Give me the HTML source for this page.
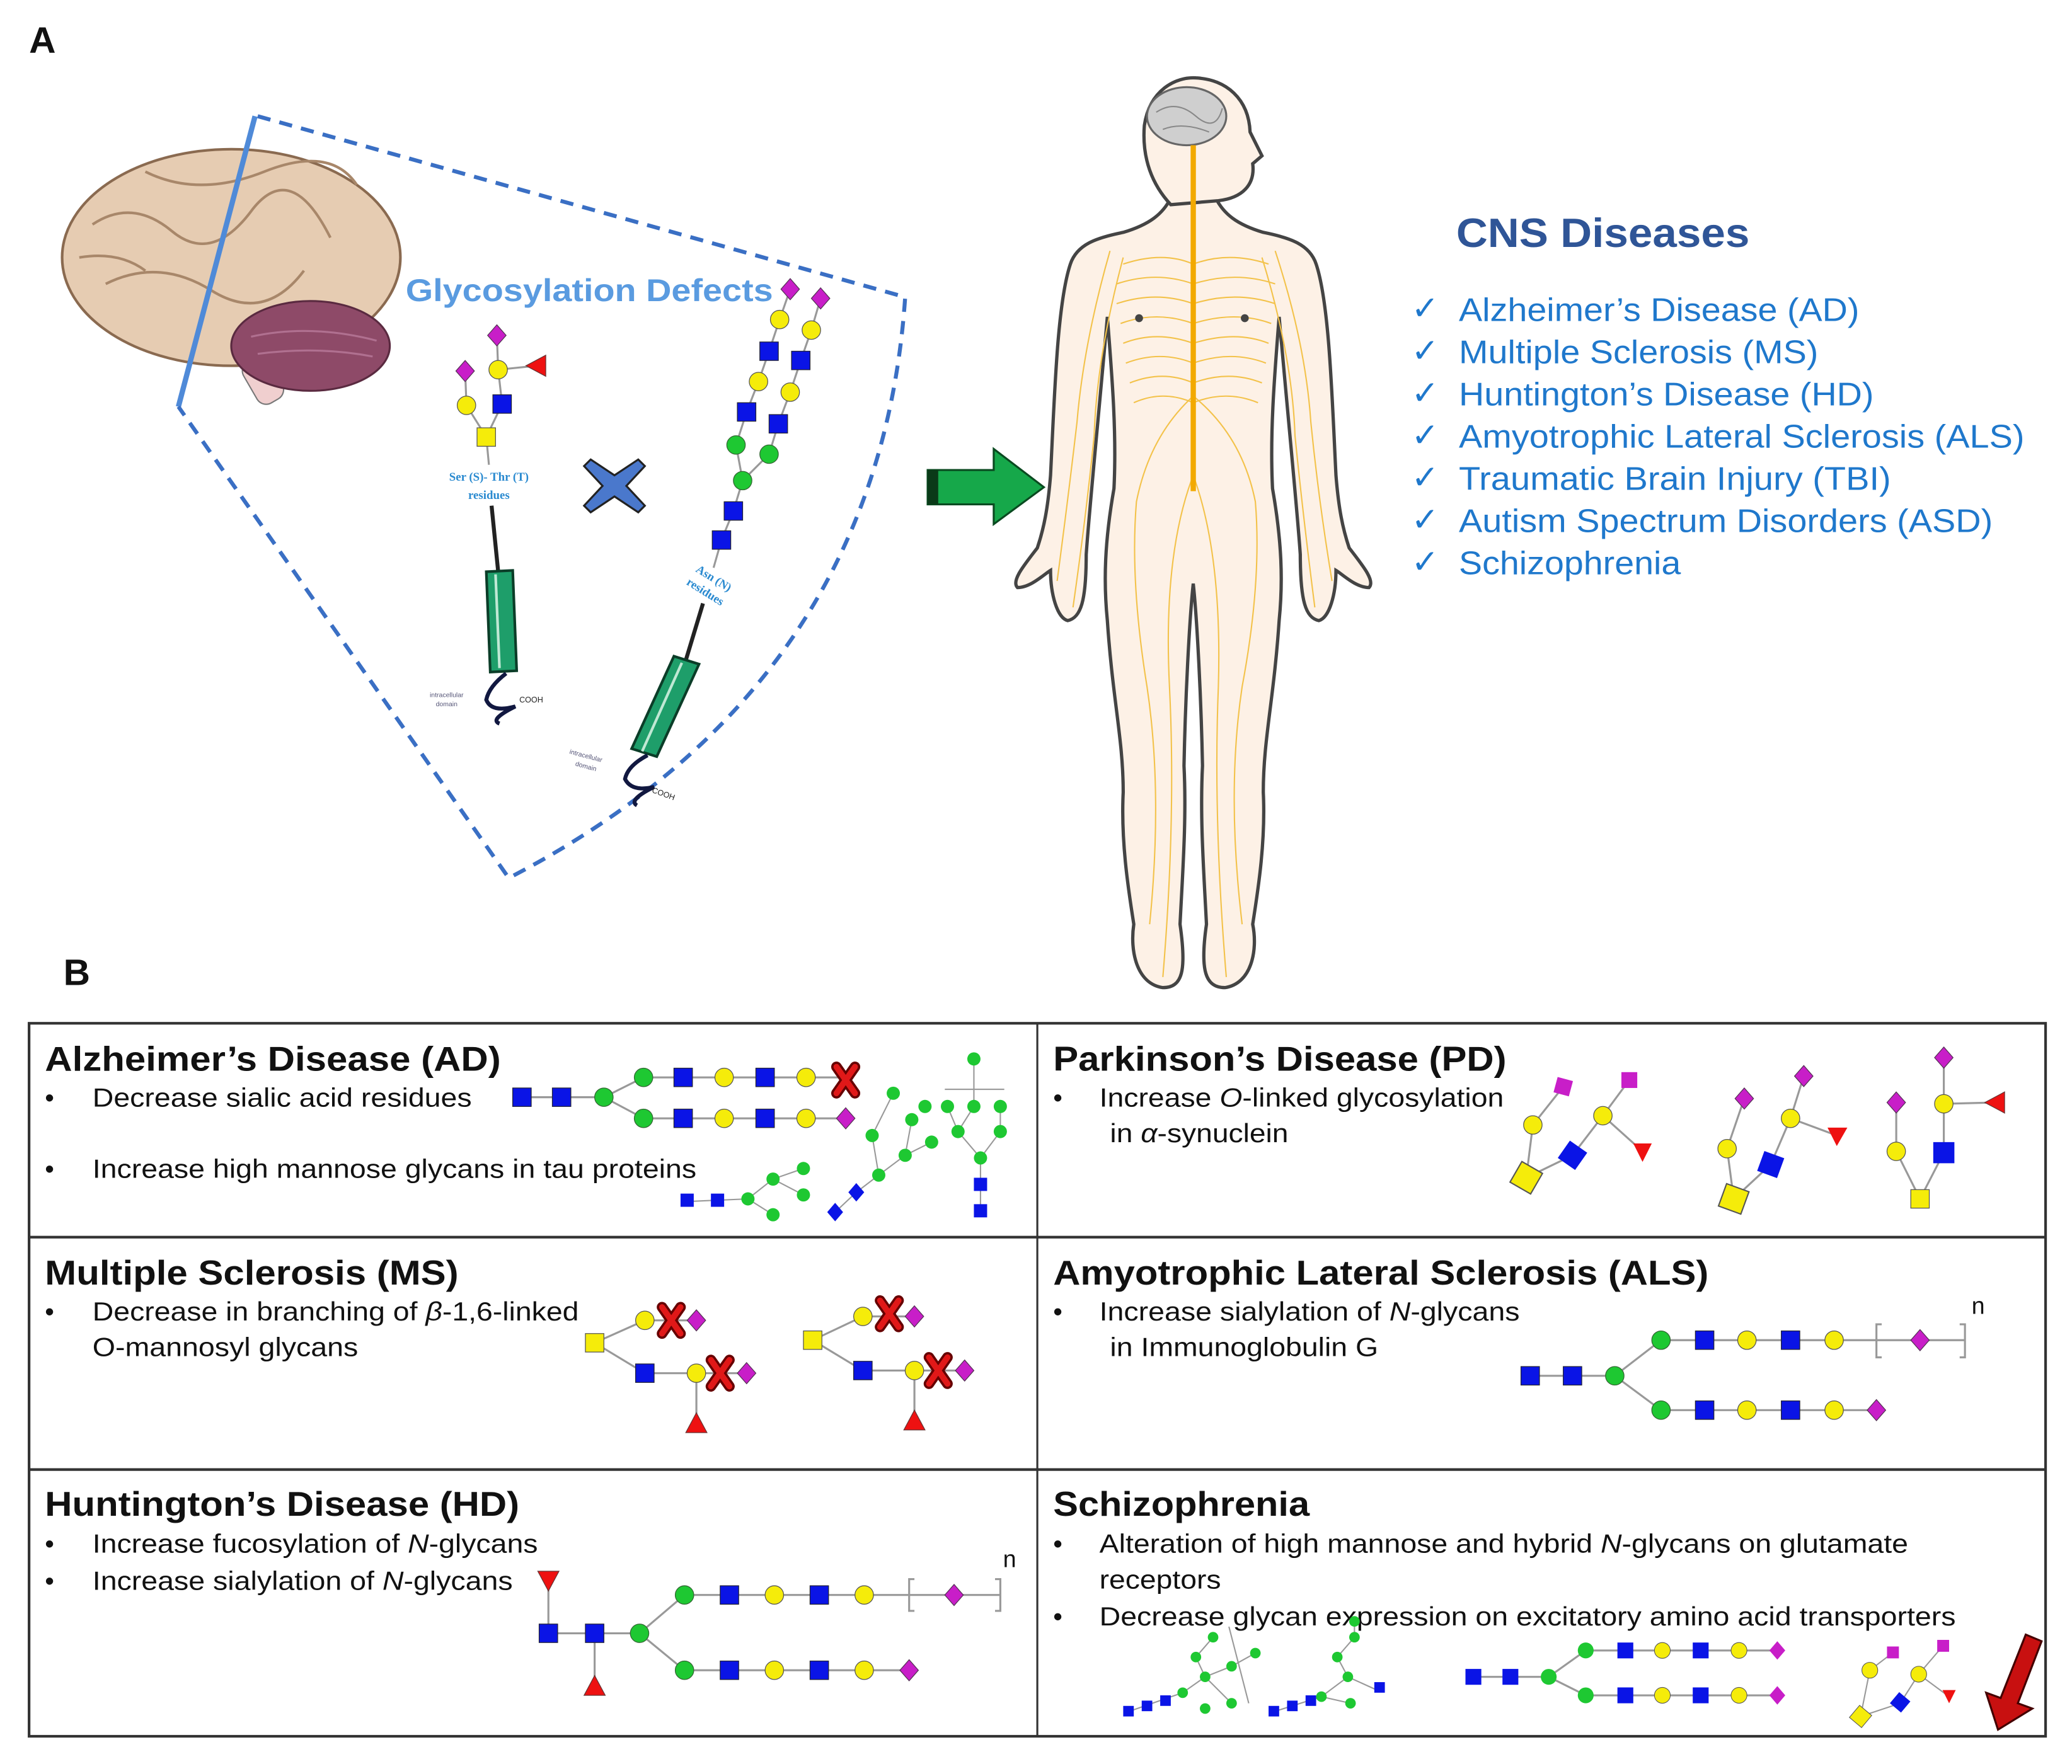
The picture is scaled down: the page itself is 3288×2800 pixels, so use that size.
<!DOCTYPE html>
<html><head><meta charset="utf-8"><style>
html,body{margin:0;padding:0;background:#fff}
svg{display:block}
.t{font-family:"Liberation Sans",sans-serif;font-weight:bold;font-size:26px;fill:#111}
.b{font-family:"Liberation Sans",sans-serif;font-size:20px;fill:#111}
.c{font-family:"Liberation Sans",sans-serif;font-size:25px;fill:#1f78cc}
.ln{stroke:#999;stroke-width:1.5;fill:none}
</style></head><body>
<svg width="3288" height="2800" viewBox="0 0 1568 1336" preserveAspectRatio="none" xmlns="http://www.w3.org/2000/svg">
<defs>
<g id="sq"><rect x="-7" y="-7" width="14" height="14" fill="#0a14e6" stroke="#223" stroke-width="0.6"/></g>
<g id="ys"><rect x="-7" y="-7" width="14" height="14" fill="#f5ec0a" stroke="#555" stroke-width="0.6"/></g>
<g id="yc"><circle r="7" fill="#f5ec0a" stroke="#555" stroke-width="0.6"/></g>
<g id="gc"><circle r="7" fill="#1ec832" stroke="#363" stroke-width="0.6"/></g>
<g id="sg"><circle r="5" fill="#1ec832"/></g>
<g id="di"><polygon points="0,-8 7,0 0,8 -7,0" fill="#c81ec8" stroke="#535" stroke-width="0.6"/></g>
<g id="tu"><polygon points="0,-8 8,7 -8,7" fill="#ee1111" stroke="#633" stroke-width="0.6"/></g>
<g id="td"><polygon points="0,8 8,-7 -8,-7" fill="#ee1111" stroke="#633" stroke-width="0.6"/></g>
<g id="tl"><polygon points="-8,0 7,-8 7,8" fill="#ee1111" stroke="#633" stroke-width="0.6"/></g>
<g id="xx"><path d="M-7,-10 L7,10 M7,-10 L-7,10" stroke="#600" stroke-width="8" stroke-linecap="round"/><path d="M-7,-10 L7,10 M7,-10 L-7,10" stroke="#e01818" stroke-width="4.5" stroke-linecap="round"/></g>
</defs>

<!-- Panel A -->
<text x="22" y="40" class="t" style="font-size:28px">A</text>

<!-- brain -->
<g>
<ellipse cx="175" cy="195" rx="128" ry="82" fill="#e6ccb2" stroke="#8a6a50" stroke-width="2"/>
<path d="M70 170 Q100 150 130 175 T190 160 T250 180 M80 215 Q120 195 160 220 T230 205 M110 130 Q150 150 200 130 T270 140 M60 195 Q90 190 110 205" stroke="#a8876a" stroke-width="2" fill="none"/>
<rect x="188" y="270" width="22" height="36" rx="8" fill="#f0cfcf" stroke="#777" transform="rotate(-30 199 288)"/>
<ellipse cx="235" cy="262" rx="60" ry="34" fill="#8e4a68" stroke="#5a2a40" stroke-width="1.5"/>
<path d="M190 255 Q235 245 285 258 M195 268 Q240 262 282 270" stroke="#b07090" stroke-width="1.5" fill="none"/>
</g>
<line x1="193" y1="88" x2="135" y2="308" stroke="#4f8ad8" stroke-width="4"/>
<path d="M195 88 L685 225 Q665 520 385 665 L135 308" fill="none" stroke="#3a6fc4" stroke-width="3" stroke-dasharray="10 7"/>
<text x="307" y="228" style="font-family:'Liberation Sans',sans-serif;font-weight:bold;font-size:24px;fill:#5a9be0" textLength="278" lengthAdjust="spacingAndGlyphs">Glycosylation Defects</text>

<!-- left O-glycan protein -->
<g class="ln"><path d="M376 254 L377 280 L406 277 M377 280 L380 306 L368 331 L353 307 L352 281 M368 331 L370 352"/></g>
<use href="#di" x="376" y="254"/><use href="#di" x="352" y="281"/>
<use href="#yc" x="377" y="280"/><use href="#tl" x="406" y="277"/>
<use href="#yc" x="353" y="307"/><use href="#sq" x="380" y="306"/><use href="#ys" x="368" y="331"/>
<text x="370" y="364" text-anchor="middle" style="font-family:'Liberation Serif',serif;font-weight:bold;font-size:9px;fill:#2a8ad0">Ser (S)- Thr (T)</text>
<text x="370" y="378" text-anchor="middle" style="font-family:'Liberation Serif',serif;font-weight:bold;font-size:9px;fill:#2a8ad0">residues</text>
<line x1="372" y1="383" x2="377" y2="433" stroke="#222" stroke-width="3"/>
<polygon points="368,433 388,432 391,508 371,509" fill="#1e9e6a" stroke="#0b3d28" stroke-width="2"/>
<line x1="375" y1="435" x2="378" y2="506" stroke="#bfe8d4" stroke-width="2"/>
<path d="M383 510 Q370 520 368 530 Q372 540 390 535 Q370 545 378 548" fill="none" stroke="#111840" stroke-width="3"/>
<text x="393" y="532" style="font-family:'Liberation Sans',sans-serif;font-size:6px;fill:#222">COOH</text>
<text x="338" y="528" text-anchor="middle" style="font-family:'Liberation Sans',sans-serif;font-size:5px;fill:#557">intracellular</text>
<text x="338" y="535" text-anchor="middle" style="font-family:'Liberation Sans',sans-serif;font-size:5px;fill:#557">domain</text>

<!-- blue X -->
<path d="M447 348 L465 360 L483 348 L488 353 L474 368 L488 383 L483 388 L465 376 L447 388 L442 383 L456 368 L442 353 Z" fill="#4a78cc" stroke="#222" stroke-width="1.5"/>

<!-- right N-glycan protein -->
<g class="ln"><path d="M598 219 L590 242 L582 266 L574 289 L565 312 L557 337 L562 364 M621 226 L614 250 L606 273 L598 297 L589 321 L582 344 L562 364 L555 387 L546 409 L540 430"/></g>
<use href="#di" x="598" y="219"/><use href="#di" x="621" y="226"/>
<use href="#yc" x="590" y="242"/><use href="#yc" x="614" y="250"/>
<use href="#sq" x="582" y="266"/><use href="#sq" x="606" y="273"/>
<use href="#yc" x="574" y="289"/><use href="#yc" x="598" y="297"/>
<use href="#sq" x="565" y="312"/><use href="#sq" x="589" y="321"/>
<use href="#gc" x="557" y="337"/><use href="#gc" x="582" y="344"/>
<use href="#gc" x="562" y="364"/>
<use href="#sq" x="555" y="387"/><use href="#sq" x="546" y="409"/>
<g transform="rotate(32 537 443)"><text x="537" y="440" text-anchor="middle" style="font-family:'Liberation Serif',serif;font-weight:bold;font-size:9px;fill:#2a8ad0">Asn (N)</text><text x="537" y="452" text-anchor="middle" style="font-family:'Liberation Serif',serif;font-weight:bold;font-size:9px;fill:#2a8ad0">residues</text></g>
<line x1="532" y1="457" x2="519" y2="500" stroke="#222" stroke-width="3"/>
<polygon points="510,497 529,503 497,573 478,567" fill="#1e9e6a" stroke="#0b3d28" stroke-width="2"/>
<line x1="516" y1="502" x2="486" y2="569" stroke="#bfe8d4" stroke-width="2"/>
<path d="M490 572 Q475 580 473 590 Q478 600 495 596 Q475 606 482 610" fill="none" stroke="#111840" stroke-width="3"/>
<text x="493" y="600" transform="rotate(20 493 600)" style="font-family:'Liberation Sans',sans-serif;font-size:6px;fill:#222">COOH</text>
<text x="443" y="574" transform="rotate(15 443 574)" text-anchor="middle" style="font-family:'Liberation Sans',sans-serif;font-size:5px;fill:#557">intracellular</text>
<text x="443" y="582" transform="rotate(15 443 582)" text-anchor="middle" style="font-family:'Liberation Sans',sans-serif;font-size:5px;fill:#557">domain</text>

<!-- green arrow -->
<polygon points="702,356 752,356 752,340 790,369 752,397 752,382 702,382" fill="#16a84a" stroke="#0a4a20" stroke-width="1.5"/>
<rect x="702" y="356" width="8" height="26" fill="#0a3a18"/>

<!-- human body -->
<path d="M886 150 C 880 162 870 170 850 176 C 830 180 815 185 810 200 C 800 230 798 300 795 360 C 793 385 790 400 785 415 C 775 428 765 440 770 445 C 780 445 790 435 795 432 C 795 450 800 468 808 470 C 818 468 822 455 822 420 C 824 390 830 330 838 240 C 842 290 845 330 843 370 C 836 410 835 440 838 470 C 842 530 850 560 850 600 C 848 640 855 680 858 700 C 855 720 860 745 880 748 C 895 748 898 735 893 700 C 895 660 898 620 896 580 C 897 530 900 470 903 442 C 906 470 909 530 910 580 C 908 620 911 660 913 700 C 908 735 912 748 927 748 C 947 745 952 720 948 700 C 951 680 958 640 956 600 C 956 560 964 530 968 470 C 971 440 970 410 963 370 C 961 330 964 290 968 240 C 976 330 982 390 984 420 C 984 455 988 468 998 470 C 1006 468 1011 450 1011 432 C 1016 435 1026 445 1036 445 C 1041 440 1031 428 1021 415 C 1016 400 1013 385 1011 360 C 1008 300 1006 230 996 200 C 991 185 976 180 956 176 C 936 170 926 162 920 150 Z" fill="#fdf1e6" stroke="#444" stroke-width="2.5"/>
<path d="M886 155 C 872 140 864 120 866 95 C 870 68 890 58 905 59 C 928 60 945 75 946 100 L 955 118 L 948 124 C 950 140 940 150 922 152 Z" fill="#fdf1e6" stroke="#444" stroke-width="2.5"/>
<ellipse cx="898" cy="88" rx="30" ry="22" fill="#cfcfcf" stroke="#666" stroke-width="1.5"/>
<path d="M875 85 Q890 75 905 88 T925 82 M880 98 Q895 92 915 100" stroke="#888" fill="none"/>
<g stroke="#f3c24a" stroke-width="1" fill="none">
<path d="M850 200 Q880 190 903 200 Q930 190 960 200 M845 215 Q875 205 903 215 Q935 205 965 215 M845 230 Q875 220 903 230 Q935 220 965 230 M848 245 Q875 235 903 245 Q935 235 962 245 M850 260 Q875 250 903 260 Q935 250 960 260 M852 275 Q878 265 903 275 Q932 265 958 275 M855 290 Q880 280 903 290 Q930 280 955 290 M858 305 Q880 295 903 305 Q928 295 952 305"/>
<path d="M903 300 Q870 330 860 380 Q855 440 868 520 Q880 600 870 700 M903 300 Q940 330 950 380 Q955 440 940 520 Q928 600 940 700 M903 360 Q880 420 885 520 Q890 620 880 740 M903 360 Q925 420 922 520 Q918 620 928 740"/>
<path d="M840 190 Q820 260 815 320 Q808 380 800 440 M850 195 Q830 270 828 330 Q822 390 812 460 M965 190 Q988 260 992 320 Q998 380 1008 440 M955 195 Q978 270 980 330 Q986 390 995 460"/>
</g>
<line x1="903" y1="110" x2="903" y2="372" stroke="#f2a900" stroke-width="4"/>
<circle cx="862" cy="241" r="3" fill="#444"/><circle cx="942" cy="241" r="3" fill="#444"/>

<!-- CNS diseases -->
<text x="1102" y="187" style="font-family:'Liberation Sans',sans-serif;font-weight:bold;font-size:31px;fill:#2f5597" textLength="222" lengthAdjust="spacingAndGlyphs">CNS Diseases</text>
<g class="c">
<text x="1068" y="242">✓</text><text x="1104" y="243" textLength="303" lengthAdjust="spacingAndGlyphs">Alzheimer’s Disease (AD)</text>
<text x="1068" y="274">✓</text><text x="1104" y="275" textLength="272" lengthAdjust="spacingAndGlyphs">Multiple Sclerosis (MS)</text>
<text x="1068" y="306">✓</text><text x="1104" y="307" textLength="314" lengthAdjust="spacingAndGlyphs">Huntington’s Disease (HD)</text>
<text x="1068" y="338">✓</text><text x="1104" y="339" textLength="428" lengthAdjust="spacingAndGlyphs">Amyotrophic Lateral Sclerosis (ALS)</text>
<text x="1068" y="370">✓</text><text x="1104" y="371" textLength="327" lengthAdjust="spacingAndGlyphs">Traumatic Brain Injury (TBI)</text>
<text x="1068" y="402">✓</text><text x="1104" y="403" textLength="404" lengthAdjust="spacingAndGlyphs">Autism Spectrum Disorders (ASD)</text>
<text x="1068" y="434">✓</text><text x="1104" y="435" textLength="168" lengthAdjust="spacingAndGlyphs">Schizophrenia</text>
</g>

<!-- Panel B -->
<text x="48" y="746" class="t" style="font-size:28px">B</text>
<rect x="22" y="775" width="1526" height="540" fill="none" stroke="#333" stroke-width="2"/>
<line x1="785" y1="775" x2="785" y2="1315" stroke="#333" stroke-width="1.5"/>
<line x1="22" y1="937" x2="1548" y2="937" stroke="#333" stroke-width="2"/>
<line x1="22" y1="1113" x2="1548" y2="1113" stroke="#333" stroke-width="2"/>

<text x="34" y="811" class="t" textLength="345" lengthAdjust="spacingAndGlyphs">Alzheimer’s Disease (AD)</text>
<text x="797" y="811" class="t" textLength="343" lengthAdjust="spacingAndGlyphs">Parkinson’s Disease (PD)</text>
<text x="34" y="973" class="t" textLength="313" lengthAdjust="spacingAndGlyphs">Multiple Sclerosis (MS)</text>
<text x="797" y="973" class="t" textLength="496" lengthAdjust="spacingAndGlyphs">Amyotrophic Lateral Sclerosis (ALS)</text>
<text x="34" y="1148" class="t" textLength="359" lengthAdjust="spacingAndGlyphs">Huntington’s Disease (HD)</text>
<text x="797" y="1148" class="t" textLength="194" lengthAdjust="spacingAndGlyphs">Schizophrenia</text>

<g class="b">
<text x="34" y="838">•</text><text x="70" y="838" textLength="287" lengthAdjust="spacingAndGlyphs">Decrease sialic acid residues</text>
<text x="34" y="892">•</text><text x="70" y="892" textLength="457" lengthAdjust="spacingAndGlyphs">Increase high mannose glycans in tau proteins</text>
<text x="797" y="838">•</text><text x="832" y="838" textLength="306" lengthAdjust="spacingAndGlyphs">Increase <tspan font-style="italic">O</tspan>-linked glycosylation</text>
<text x="840" y="865" textLength="135" lengthAdjust="spacingAndGlyphs">in <tspan font-style="italic">α</tspan>-synuclein</text>
<text x="34" y="1000">•</text><text x="70" y="1000" textLength="368" lengthAdjust="spacingAndGlyphs">Decrease in branching of <tspan font-style="italic">β</tspan>-1,6-linked</text>
<text x="70" y="1027" textLength="201" lengthAdjust="spacingAndGlyphs">O-mannosyl glycans</text>
<text x="797" y="1000">•</text><text x="832" y="1000" textLength="318" lengthAdjust="spacingAndGlyphs">Increase sialylation of <tspan font-style="italic">N</tspan>-glycans</text>
<text x="840" y="1027" textLength="203" lengthAdjust="spacingAndGlyphs">in Immunoglobulin G</text>
<text x="34" y="1176">•</text><text x="70" y="1176" textLength="337" lengthAdjust="spacingAndGlyphs">Increase fucosylation of <tspan font-style="italic">N</tspan>-glycans</text>
<text x="34" y="1204">•</text><text x="70" y="1204" textLength="318" lengthAdjust="spacingAndGlyphs">Increase sialylation of <tspan font-style="italic">N</tspan>-glycans</text>
<text x="797" y="1176">•</text><text x="832" y="1176" textLength="612" lengthAdjust="spacingAndGlyphs">Alteration of high mannose and hybrid <tspan font-style="italic">N</tspan>-glycans on glutamate</text>
<text x="832" y="1203" textLength="92" lengthAdjust="spacingAndGlyphs">receptors</text>
<text x="797" y="1231">•</text><text x="832" y="1231" textLength="648" lengthAdjust="spacingAndGlyphs">Decrease glycan expression on excitatory amino acid transporters</text>
</g>

<!-- AD glycans -->
<g class="ln"><path d="M395 831 L457 831 L487 816 L640 816 M457 831 L487 847 L640 847"/></g>
<use href="#sq" x="395" y="831"/><use href="#sq" x="425" y="831"/><use href="#gc" x="457" y="831"/>
<use href="#gc" x="487" y="816"/><use href="#sq" x="517" y="816"/><use href="#yc" x="548" y="816"/><use href="#sq" x="579" y="816"/><use href="#yc" x="610" y="816"/><use href="#xx" x="640" y="818"/>
<use href="#gc" x="487" y="847"/><use href="#sq" x="517" y="847"/><use href="#yc" x="548" y="847"/><use href="#sq" x="579" y="847"/><use href="#yc" x="610" y="847"/><use href="#di" x="640" y="847"/>
<g class="ln" style="stroke-width:1"><path d="M520 910 L566 908 L585 893 L608 885 M585 893 L608 905 M566 908 L585 920 M632 918 L648 903 L665 890 L685 875 L705 865 M665 890 L660 860 L676 828 M685 875 L690 848 M742 917 L742 877 L725 857 L717 838 M742 877 L757 857 L757 838 M725 857 L737 838 M737 802 L737 838 M715 825 L760 825"/></g>
<rect x="515" y="904" width="10" height="10" fill="#0a14e6"/><rect x="538" y="904" width="10" height="10" fill="#0a14e6"/>
<use href="#sg" x="566" y="908"/><use href="#sg" x="585" y="893"/><use href="#sg" x="585" y="920"/><use href="#sg" x="608" y="885"/><use href="#sg" x="608" y="905"/>
<polygon points="632,911 638,918 632,925 626,918" fill="#0a14e6"/><polygon points="648,896 654,903 648,910 642,903" fill="#0a14e6"/>
<use href="#sg" x="665" y="890"/><use href="#sg" x="685" y="875"/><use href="#sg" x="705" y="865"/><use href="#sg" x="660" y="860"/><use href="#sg" x="690" y="848"/><use href="#sg" x="676" y="828"/><use href="#sg" x="700" y="838"/>
<use href="#sg" x="737" y="802"/><use href="#sg" x="717" y="838"/><use href="#sg" x="737" y="838"/><use href="#sg" x="757" y="838"/><use href="#sg" x="725" y="857"/><use href="#sg" x="757" y="857"/><use href="#sg" x="742" y="877"/>
<rect x="737" y="892" width="10" height="10" fill="#0a14e6"/><rect x="737" y="912" width="10" height="10" fill="#0a14e6"/>

<!-- PD glycans -->
<g class="ln"><path d="M1155 892 L1160 852 L1183 823 M1155 892 L1190 875 L1213 845 L1233 818 M1213 845 L1243 872 M1312 908 L1307 870 L1320 832 M1312 908 L1340 882 L1355 847 L1365 815 M1355 847 L1390 860 M1453 908 L1435 872 L1435 835 M1453 908 L1471 873 L1471 836 L1471 801 M1471 836 L1510 835"/></g>
<rect x="1146" y="883" width="18" height="18" fill="#f5ec0a" stroke="#555" transform="rotate(30 1155 892)"/>
<use href="#yc" x="1160" y="852"/><use href="#yc" x="1213" y="845"/>
<rect x="1182" y="867" width="16" height="16" fill="#0a14e6" transform="rotate(35 1190 875)"/>
<rect x="1177" y="817" width="12" height="12" fill="#c81ec8" transform="rotate(15 1183 823)"/><rect x="1227" y="812" width="12" height="12" fill="#c81ec8"/>
<polygon points="1243,880 1236,866 1250,866" fill="#ee1111"/>
<rect x="1303" y="899" width="18" height="18" fill="#f5ec0a" stroke="#555" transform="rotate(20 1312 908)"/>
<use href="#yc" x="1307" y="870"/><use href="#yc" x="1355" y="847"/>
<rect x="1332" y="874" width="16" height="16" fill="#0a14e6" transform="rotate(20 1340 882)"/>
<use href="#di" x="1320" y="832"/><use href="#di" x="1365" y="815"/>
<polygon points="1390,868 1383,854 1398,854" fill="#ee1111"/>
<use href="#ys" x="1453" y="908"/>
<use href="#yc" x="1435" y="872"/><use href="#yc" x="1471" y="836"/>
<rect x="1463" y="865" width="16" height="16" fill="#0a14e6"/>
<use href="#di" x="1435" y="835"/><use href="#di" x="1471" y="801"/><use href="#tl" x="1510" y="835"/>

<!-- MS glycans -->
<g class="ln"><path d="M450 1017 L488 1000 L527 1000 M450 1017 L488 1040 L565 1040 M527 1040 L527 1078 M615 1015 L653 997 L692 997 M615 1015 L653 1038 L730 1038 M692 1038 L692 1076"/></g>
<use href="#ys" x="450" y="1017"/><use href="#yc" x="488" y="1000"/><use href="#di" x="527" y="1000"/><use href="#xx" x="508" y="1000"/>
<use href="#sq" x="488" y="1040"/><use href="#yc" x="527" y="1040"/><use href="#di" x="565" y="1040"/><use href="#xx" x="545" y="1040"/><use href="#tu" x="527" y="1078"/>
<use href="#ys" x="615" y="1015"/><use href="#yc" x="653" y="997"/><use href="#di" x="692" y="997"/><use href="#xx" x="673" y="995"/>
<use href="#sq" x="653" y="1038"/><use href="#yc" x="692" y="1038"/><use href="#di" x="730" y="1038"/><use href="#xx" x="710" y="1038"/><use href="#tu" x="692" y="1076"/>

<!-- ALS glycan -->
<g class="ln"><path d="M1158 1042 L1222 1042 L1257 1015 L1487 1015 M1222 1042 L1257 1068 L1420 1068 M1424 1003 L1420 1003 L1420 1028 L1424 1028 M1483 1003 L1487 1003 L1487 1028 L1483 1028"/></g>
<use href="#sq" x="1158" y="1042"/><use href="#sq" x="1190" y="1042"/><use href="#gc" x="1222" y="1042"/>
<use href="#gc" x="1257" y="1015"/><use href="#sq" x="1290" y="1015"/><use href="#yc" x="1322" y="1015"/><use href="#sq" x="1355" y="1015"/><use href="#yc" x="1388" y="1015"/><use href="#di" x="1453" y="1015"/>
<use href="#gc" x="1257" y="1068"/><use href="#sq" x="1290" y="1068"/><use href="#yc" x="1322" y="1068"/><use href="#sq" x="1355" y="1068"/><use href="#yc" x="1388" y="1068"/><use href="#di" x="1420" y="1068"/>
<text x="1492" y="995" class="b" style="font-size:18px">n</text>

<!-- HD glycan -->
<g class="ln"><path d="M415 1197 L415 1237 L484 1237 L518 1208 L757 1208 M450 1237 L450 1277 M484 1237 L518 1265 L688 1265 M692 1196 L688 1196 L688 1220 L692 1220 M753 1196 L757 1196 L757 1220 L753 1220"/></g>
<use href="#td" x="415" y="1197"/><use href="#sq" x="415" y="1237"/><use href="#sq" x="450" y="1237"/><use href="#tu" x="450" y="1277"/><use href="#gc" x="484" y="1237"/>
<use href="#gc" x="518" y="1208"/><use href="#sq" x="552" y="1208"/><use href="#yc" x="586" y="1208"/><use href="#sq" x="620" y="1208"/><use href="#yc" x="654" y="1208"/><use href="#di" x="722" y="1208"/>
<use href="#gc" x="518" y="1265"/><use href="#sq" x="552" y="1265"/><use href="#yc" x="586" y="1265"/><use href="#sq" x="620" y="1265"/><use href="#yc" x="654" y="1265"/><use href="#di" x="688" y="1265"/>
<text x="759" y="1187" class="b" style="font-size:18px">n</text>

<!-- Schizophrenia glycans -->
<g class="ln" style="stroke-width:1"><path d="M852 1297 L895 1282 L912 1270 L932 1262 L950 1252 M912 1270 L905 1255 L918 1240 M912 1270 L932 1290 M930 1232 L945 1290 M962 1297 L1000 1285 L1020 1270 L1042 1280 M1020 1270 L1012 1255 L1025 1240 L1025 1228 M1000 1285 L1022 1290"/></g>
<g fill="#0a14e6"><rect x="850" y="1292" width="8" height="8"/><rect x="864" y="1288" width="8" height="8"/><rect x="878" y="1284" width="8" height="8"/><rect x="960" y="1292" width="8" height="8"/><rect x="974" y="1288" width="8" height="8"/><rect x="988" y="1284" width="8" height="8"/><rect x="1040" y="1274" width="8" height="8"/></g>
<g><circle cx="895" cy="1282" r="4" fill="#1ec832"/><circle cx="912" cy="1270" r="4" fill="#1ec832"/><circle cx="932" cy="1262" r="4" fill="#1ec832"/><circle cx="950" cy="1252" r="4" fill="#1ec832"/><circle cx="905" cy="1255" r="4" fill="#1ec832"/><circle cx="918" cy="1240" r="4" fill="#1ec832"/><circle cx="932" cy="1290" r="4" fill="#1ec832"/><circle cx="912" cy="1294" r="4" fill="#1ec832"/>
<circle cx="1000" cy="1285" r="4" fill="#1ec832"/><circle cx="1020" cy="1270" r="4" fill="#1ec832"/><circle cx="1012" cy="1255" r="4" fill="#1ec832"/><circle cx="1025" cy="1240" r="4" fill="#1ec832"/><circle cx="1025" cy="1228" r="4" fill="#1ec832"/><circle cx="1022" cy="1290" r="4" fill="#1ec832"/></g>
<g class="ln"><path d="M1115 1270 L1172 1270 L1200 1250 L1345 1250 M1172 1270 L1200 1284 L1345 1284"/></g>
<g transform="translate(0,0)">
<rect x="1109" y="1264" width="12" height="12" fill="#0a14e6"/><rect x="1137" y="1264" width="12" height="12" fill="#0a14e6"/><circle cx="1172" cy="1270" r="6" fill="#1ec832"/>
<circle cx="1200" cy="1250" r="6" fill="#1ec832"/><rect x="1224" y="1244" width="12" height="12" fill="#0a14e6"/><circle cx="1258" cy="1250" r="6" fill="#f5ec0a" stroke="#555" stroke-width="0.5"/><rect x="1281" y="1244" width="12" height="12" fill="#0a14e6"/><circle cx="1316" cy="1250" r="6" fill="#f5ec0a" stroke="#555" stroke-width="0.5"/><polygon points="1345,1243 1351,1250 1345,1257 1339,1250" fill="#c81ec8"/>
<circle cx="1200" cy="1284" r="6" fill="#1ec832"/><rect x="1224" y="1278" width="12" height="12" fill="#0a14e6"/><circle cx="1258" cy="1284" r="6" fill="#f5ec0a" stroke="#555" stroke-width="0.5"/><rect x="1281" y="1278" width="12" height="12" fill="#0a14e6"/><circle cx="1316" cy="1284" r="6" fill="#f5ec0a" stroke="#555" stroke-width="0.5"/><polygon points="1345,1277 1351,1284 1345,1291 1339,1284" fill="#c81ec8"/>
</g>
<g class="ln" style="stroke-width:1"><path d="M1408 1300 L1415 1265 L1432 1252 M1408 1300 L1438 1290 L1452 1268 L1470 1247 M1452 1268 L1475 1285"/></g>
<rect x="1402" y="1294" width="12" height="12" fill="#f5ec0a" stroke="#555" stroke-width="0.5" transform="rotate(40 1408 1300)"/>
<circle cx="1415" cy="1265" r="6" fill="#f5ec0a" stroke="#555" stroke-width="0.5"/><circle cx="1452" cy="1268" r="6" fill="#f5ec0a" stroke="#555" stroke-width="0.5"/>
<rect x="1432" y="1284" width="11" height="11" fill="#0a14e6" transform="rotate(40 1438 1290)"/>
<rect x="1428" y="1247" width="9" height="9" fill="#c81ec8"/><rect x="1466" y="1242" width="9" height="9" fill="#c81ec8"/>
<polygon points="1475,1290 1470,1280 1480,1280" fill="#ee1111"/>
<!-- red arrow -->
<polygon points="1533,1238 1545,1243 1527,1290 1538,1294 1512,1310 1503,1282 1514,1286" fill="#c81010" stroke="#400" stroke-width="1.5"/>
</svg>
</body></html>
